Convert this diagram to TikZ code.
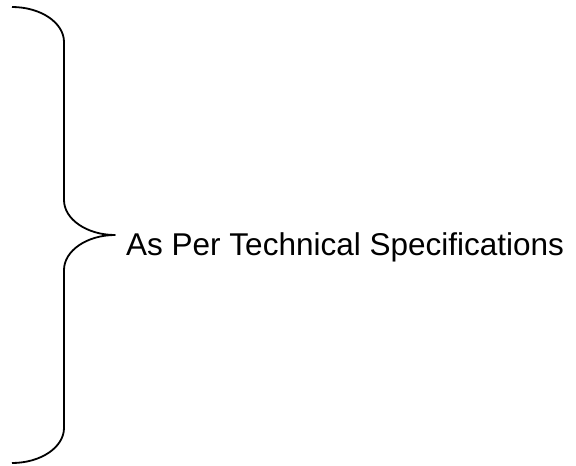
\documentclass[tikz,border=0pt]{standalone}
\usepackage{fontspec}
\setmainfont{Liberation Sans}
\begin{document}
\begin{tikzpicture}[x=1pt,y=-1pt,
  bracestyle/.style={line width=1.8pt,line join=round},
  labelstyle/.style={font=\fontsize{31.5}{36}\selectfont,inner sep=0pt,anchor=base west}]
\useasboundingbox (0,0) rectangle (576,466);
\coordinate (top) at (12,7);
\coordinate (tip) at (115,235);
\coordinate (bot) at (12,463);
\node[labelstyle] (lbl) at (126,255) {As Per Technical Specifications};
\draw[bracestyle] (top) .. controls (40.7,7) and (64,22.7) .. (64,42)
  -- (64,200) .. controls (64,219.3) and (87,235) .. (tip)
  .. controls (87,235) and (64,250.7) .. (64,270)
  -- (64,428) .. controls (64,447.3) and (40.7,463) .. (bot);
\end{tikzpicture}
\end{document}
